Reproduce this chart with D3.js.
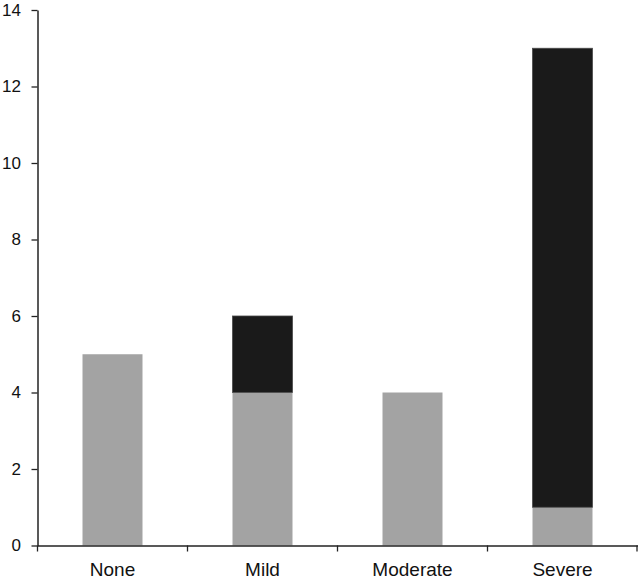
<!DOCTYPE html>
<html><head><meta charset="utf-8">
<script src="https://cdn.jsdelivr.net/npm/d3@7"></script>
<style>body{margin:0;background:#fff}svg text{font-family:"Liberation Sans",Arial,sans-serif}</style>
</head><body>
<svg id="c" width="638" height="581"></svg>
<script>
const categories = ["None", "Mild", "Moderate", "Severe"];
const grayValues = [5, 4, 4, 1];
const blackValues = [0, 2, 0, 12];
const yTicks = [0, 2, 4, 6, 8, 10, 12, 14];

(function () {
const svg = d3.select("#c");
const mLeft = 37.5, mRight = 637.5, mTop = 10, mBottom = 545.5;
const x = d3.scaleBand().domain(categories).range([mLeft, mRight]).paddingInner(0).paddingOuter(0);
const y = d3.scaleLinear().domain([0, 14]).range([mBottom, mTop]);
const bw = x.bandwidth() * 0.4;

const rows = categories.map((c, i) => ({c, g: grayValues[i], b: blackValues[i]}));
const stack = d3.stack().keys(["g", "b"])(rows);
const fills = {g: "#a3a3a3", b: "#1a1a1a"};

stack.forEach(layer => {
  svg.append("g").selectAll("rect").data(layer.filter(d => d[1] > d[0])).join("rect")
    .attr("x", d => x(d.data.c) + (x.bandwidth() - bw) / 2)
    .attr("width", bw)
    .attr("y", d => y(d[1]))
    .attr("height", d => y(d[0]) - y(d[1]))
    .attr("fill", fills[layer.key])
    .attr("stroke", layer.key === "b" ? "#4a4a4a" : "none")
    .attr("stroke-width", 0.8);
});

const ya = svg.append("g").attr("transform", `translate(${mLeft},0)`)
  .call(d3.axisLeft(y).tickValues(yTicks).tickSize(6).tickPadding(4).tickSizeOuter(0));
ya.select(".domain").attr("stroke", "#222").attr("stroke-width", 1.5);
ya.selectAll(".tick line").attr("stroke", "#222").attr("stroke-width", 1.3);
ya.selectAll(".tick text").attr("font-size", 17).attr("fill", "#111").attr("x", -16.5);

const xa = svg.append("g").attr("transform", `translate(0,${mBottom})`)
  .call(d3.axisBottom(x).tickSize(0).tickPadding(17).tickSizeOuter(0));
xa.select(".domain").attr("stroke", "#222").attr("stroke-width", 1.5);
xa.selectAll(".tick text").attr("font-size", 19).attr("fill", "#111");
const bounds = [mLeft].concat(categories.map(c => x(c) + x.bandwidth()));
xa.selectAll(".sep").data(bounds).join("line").attr("class", "sep")
  .attr("x1", d => Math.min(d, 637)).attr("x2", d => Math.min(d, 637))
  .attr("y1", 0).attr("y2", 6).attr("stroke", "#222").attr("stroke-width", 1.3);
})();
</script>
</body></html>
